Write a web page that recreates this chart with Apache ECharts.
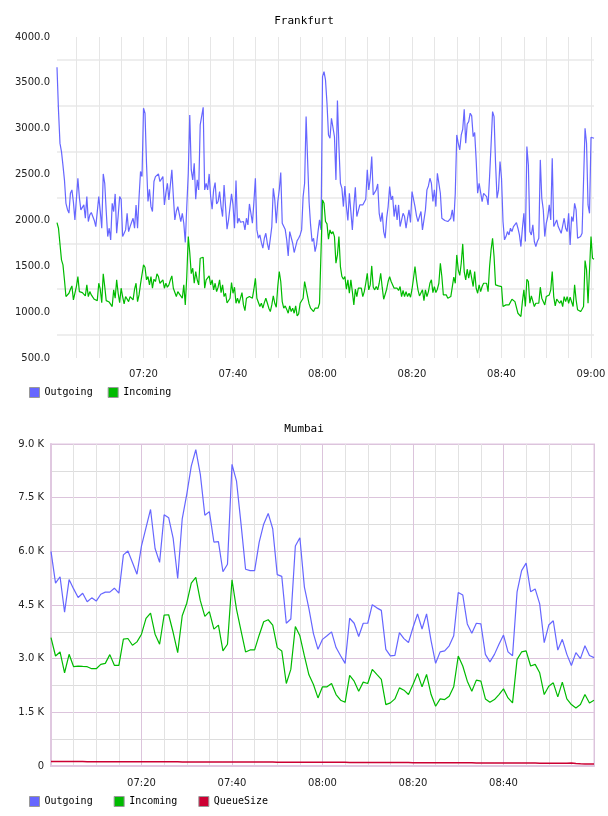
<!DOCTYPE html>
<html>
<head>
<meta charset="utf-8">
<title>Frankfurt / Mumbai</title>
<script src="https://cdn.jsdelivr.net/npm/echarts@6/dist/echarts.min.js"></script>
<style>
  html, body { margin: 0; padding: 0; background: #fff; }
  #main { width: 608px; height: 816px; }
</style>
</head>
<body>
<div id="main"></div>
<script>
// Frankfurt: one sample every 20 s from 07:00:40
const frankfurtStart = '07:00:40'
const frankfurtStep = 20

const frankfurtOutgoing = [
  3670, 3200, 2840, 2750, 2600, 2440, 2187, 2120, 2080, 2296, 2333, 2200, 2006, 1988, 2460, 2250, 2115, 2097, 2169, 2024,
  2260, 1988, 2060, 2086, 2078, 2000, 1933, 1951, 2260, 2100, 1915, 2507, 2405, 2100, 1824, 1915, 1788, 2187, 2097, 2289,
  1860, 2050, 2260, 2231, 1824, 1860, 1897, 2078, 1878, 1933, 1980, 2024, 1915, 2169, 1915, 2250, 2533, 2478, 3223, 3169,
  2624, 2206, 2340, 2150, 2097, 2424, 2478, 2490, 2507, 2424, 2405, 2478, 2169, 2300, 2405, 2224, 2206, 2551, 2260, 2006,
  2100, 2151, 2169, 1988, 2078, 1969, 1759, 2150, 2514, 3150, 2551, 2442, 2624, 2231, 2442, 2333, 3041, 3030, 3234, 2333,
  2405, 2333, 2507, 2260, 2122, 2333, 2413, 2180, 2206, 2315, 2151, 2042, 2387, 2150, 1904, 2006, 2024, 2289, 2169, 1915,
  2435, 1969, 2024, 1980, 1969, 1988, 1897, 2024, 1951, 2180, 2078, 1969, 2200, 2460, 1897, 1806, 1842, 1760, 1697, 1806,
  1860, 1751, 1679, 1800, 1933, 2351, 2224, 1969, 2200, 2333, 2522, 1969, 1988, 1900, 1788, 1613, 1878, 1878, 1751, 1650,
  1715, 1780, 1806, 1842, 1897, 2260, 2405, 3132, 2660, 2200, 1951, 1770, 1806, 1660, 1733, 1878, 2006, 1897, 3568, 3623,
  3532, 3278, 2932, 2896, 3114, 3132, 2914, 2442, 3307, 2805, 2405, 2350, 2151, 2376, 2151, 2000, 2296, 2315, 1897, 2158,
  2362, 2042, 2060, 2169, 2150, 2169, 2187, 2231, 2551, 2333, 2460, 2696, 2278, 2260, 2333, 2398, 2078, 1988, 2086, 1878,
  1806, 2024, 2151, 2369, 2224, 2267, 2042, 2169, 2006, 2169, 1933, 1915, 2078, 2042, 1915, 2024, 2115, 1977, 2315, 2333,
  2151, 2050, 1988, 2006, 2097, 1897, 1878, 2115, 2333, 2376, 2460, 2405, 2206, 2333, 2151, 2514, 2405, 2296, 2024, 2006,
  1999, 1988, 1988, 1990, 2024, 2115, 1988, 2296, 2932, 2841, 2769, 2932, 2994, 3212, 2841, 3052, 3078, 3169, 3140, 2914,
  2958, 2660, 2296, 2405, 2387, 2206, 2296, 2296, 2260, 2169, 2478, 2823, 3187, 3132, 2624, 2242, 2333, 2642, 2460, 1988,
  1788, 1824, 1878, 1842, 1915, 1878, 1933, 1915, 1977, 1915, 1842, 1715, 1915, 2078, 1770, 2805, 2605, 1878, 1842, 1951,
  1770, 1715, 1770, 1806, 2660, 2242, 2115, 1824, 1969, 2042, 2169, 2006, 2678, 1933, 1969, 2006, 1933, 1951, 1860, 1860,
  2024, 1915, 1878, 2078, 1733, 2042, 1988, 2187, 2115, 1806, 1795, 1824, 1860, 1878, 3005, 2841, 2169, 2078, 2907, 2896,
  2896
]

const frankfurtIncoming = [
  1977, 1915, 1897, 1570, 1515, 1350, 1170, 1152, 1206, 1250, 1286, 1134, 1126, 1279, 1388, 1224, 1220, 1213, 1224, 1177,
  1297, 1170, 1224, 1188, 1163, 1140, 1126, 1126, 1315, 1250, 1104, 1417, 1279, 1126, 1130, 1110, 1097, 1061, 1243, 1152,
  1352, 1206, 1104, 1261, 1170, 1090, 1170, 1188, 1115, 1170, 1188, 1134, 1250, 1315, 1115, 1188, 1308, 1315, 1515, 1490,
  1352, 1388, 1297, 1388, 1261, 1359, 1334, 1417, 1388, 1315, 1297, 1352, 1261, 1315, 1272, 1297, 1352, 1395, 1261, 1243,
  1170, 1224, 1200, 1188, 1152, 1297, 1079, 1388, 1824, 1650, 1420, 1479, 1315, 1442, 1352, 1297, 1588, 1577, 1599, 1261,
  1352, 1370, 1395, 1297, 1352, 1243, 1315, 1224, 1272, 1352, 1213, 1297, 1170, 1206, 1100, 1079, 1152, 1322, 1206, 1272,
  1097, 1152, 1097, 1152, 1213, 1079, 1017, 1152, 1170, 1170, 1163, 1152, 1250, 1370, 1152, 1134, 1061, 1097, 1043, 1104,
  1152, 1100, 1043, 1006, 1079, 1177, 1097, 1054, 1279, 1442, 1334, 1115, 1043, 1068, 1030, 988, 1068, 1006, 1043, 988,
  1068, 959, 981, 1097, 1090, 1152, 1334, 1315, 1170, 1090, 1043, 1061, 1006, 1043, 1040, 1043, 1097, 1079, 2224, 2187,
  1988, 1962, 1795, 1897, 1853, 1878, 1824, 1533, 1624, 1824, 1497, 1388, 1359, 1388, 1250, 1352, 1206, 1352, 1224, 1079,
  1250, 1170, 1261, 1279, 1261, 1170, 1224, 1315, 1424, 1243, 1297, 1504, 1272, 1243, 1279, 1243, 1315, 1424, 1272, 1141,
  1152, 1250, 1334, 1388, 1334, 1315, 1261, 1250, 1261, 1236, 1279, 1170, 1236, 1170, 1224, 1170, 1206, 1163, 1250, 1370,
  1497, 1352, 1243, 1177, 1163, 1243, 1126, 1243, 1170, 1224, 1315, 1352, 1213, 1279, 1213, 1250, 1315, 1533, 1388, 1188,
  1177, 1188, 1152, 1141, 1170, 1177, 1381, 1315, 1624, 1461, 1400, 1533, 1744, 1442, 1352, 1468, 1370, 1461, 1370, 1279,
  1442, 1261, 1206, 1297, 1224, 1280, 1315, 1297, 1315, 1224, 1497, 1679, 1806, 1606, 1297, 1297, 1286, 1297, 1279, 1061,
  1043, 1079, 1068, 1079, 1100, 1141, 1126, 1115, 1097, 988, 1006, 952, 1115, 1243, 1061, 1359, 1334, 1097, 1177, 1170,
  1061, 1097, 1079, 1097, 1272, 1152, 1170, 1079, 1170, 1188, 1188, 1243, 1442, 1170, 1068, 1141, 1126, 1097, 1126, 1061,
  1170, 1115, 1170, 1097, 1163, 1152, 1061, 1297, 1134, 1025, 1017, 1006, 1032, 1061, 1562, 1461, 1097, 1115, 1824, 1588,
  1577
]

// Mumbai: one sample per minute from 07:00
const mumbaiStart = '07:00:00'
const mumbaiStep = 60

const mumbaiOutgoing = [
  6000, 5110, 5290, 4300, 5210, 4950, 4710, 4830, 4590, 4700, 4610, 4800, 4860, 4860, 4970, 4830, 5900, 6010, 5690, 5360,
  6150, 6660, 7170, 6080, 5690, 7020, 6940, 6360, 5240, 6910, 7590, 8380, 8840, 8150, 7010, 7110, 6260, 6270, 5430, 5640,
  8430, 7960, 6760, 5500, 5460, 5460, 6250, 6760, 7060, 6630, 5350, 5300, 3990, 4110, 6150, 6380, 5000, 4400, 3700, 3260,
  3540, 3640, 3750, 3310, 3080, 2870, 4130, 3990, 3620, 3990, 3990, 4510, 4420, 4350, 3260, 3080, 3090, 3730, 3560, 3450,
  3870, 4250, 3830, 4250, 3500, 2870, 3190, 3220, 3360, 3640, 4850, 4780, 3970, 3710, 3990, 3970, 3120, 2910, 3120, 3400,
  3660, 3190, 3080, 4870, 5460, 5670, 4870, 4950, 4530, 3450, 3940, 4060, 3240, 3540, 3120, 2810, 3170, 3000, 3360, 3090,
  3030
]

const mumbaiIncoming = [
  3591, 3075, 3188, 2606, 3122, 2775, 2794, 2784, 2775, 2719, 2719, 2841, 2869, 3113, 2813, 2813, 3544, 3563, 3375, 3469,
  3684, 4125, 4275, 3684, 3403, 4219, 4228, 3731, 3169, 4200, 4550, 5113, 5271, 4621, 4181, 4313, 3825, 3938, 3216, 3403,
  5206, 4380, 3778, 3188, 3244, 3244, 3656, 4031, 4088, 3938, 3309, 3216, 2306, 2700, 3900, 3638, 3075, 2550, 2278, 1903,
  2213, 2213, 2306, 1997, 1838, 1781, 2531, 2372, 2091, 2344, 2306, 2700, 2559, 2419, 1716, 1763, 1875, 2184, 2119, 1997,
  2278, 2588, 2213, 2559, 1997, 1669, 1875, 1856, 1950, 2213, 3075, 2794, 2372, 2091, 2400, 2372, 1875, 1781, 1856, 1997,
  2156, 1903, 1763, 2981, 3188, 3216, 2794, 2841, 2606, 1997, 2231, 2325, 1931, 2344, 1875, 1716, 1622, 1716, 1997, 1763,
  1838
]

const mumbaiQueue = [
  125, 125, 124, 124, 124, 123, 123, 123, 122, 122, 122, 121, 121, 121, 120, 120, 120, 119, 119, 119,
  118, 118, 118, 117, 117, 117, 116, 116, 116, 115, 115, 115, 114, 114, 114, 113, 113, 113, 112, 112,
  112, 111, 111, 111, 110, 110, 110, 109, 109, 109, 108, 108, 108, 107, 107, 107, 106, 106, 105, 105,
  104, 104, 103, 103, 102, 102, 101, 101, 100, 100, 99, 99, 98, 98, 97, 97, 96, 96, 95, 95,
  94, 94, 93, 93, 92, 92, 91, 91, 90, 90, 89, 89, 88, 88, 87, 87, 86, 86, 85, 85,
  84, 84, 83, 83, 82, 82, 81, 81, 80, 80, 79, 79, 78, 78, 80, 84, 70, 60, 55, 55,
  55
]

const seriesNames = ['Outgoing', 'Incoming', 'QueueSize']
const seriesColors = ['#6666ff', '#00bb00', '#cc0033']

// category labels "HH:MM:SS"
const toSec = (s) => {
  const p = s.split(':').map(Number)
  return p[0] * 3600 + p[1] * 60 + p[2]
}
const pad = (n) => (n < 10 ? '0' : '') + n
const makeTimes = (start, step, count) => {
  const out = []
  let t = toSec(start)
  for (let i = 0; i < count; i++) {
    out.push(pad(Math.floor(t / 3600)) + ':' + pad(Math.floor(t / 60) % 60) + ':' + pad(t % 60))
    t += step
  }
  return out
}
const frankfurtTimes = makeTimes(frankfurtStart, frankfurtStep, frankfurtOutgoing.length)
const mumbaiTimes = makeTimes(mumbaiStart, mumbaiStep, mumbaiOutgoing.length)

// true when the time sits on a whole multiple of `mins` minutes
const onMinute = (v, mins) => {
  const p = v.split(':')
  return p[2] === '00' && Number(p[1]) % mins === 0
}

const monoFont = 'DejaVu Sans Mono'
const labelFont = 'DejaVu Sans'

const chart = echarts.init(document.getElementById('main'))

const option = {
  animation: false,
  backgroundColor: '#fff',
  title: [
    { text: 'Frankfurt', left: 'center', top: 11, textStyle: { fontFamily: monoFont, fontSize: 11, fontWeight: 'normal', color: '#000' } },
    { text: 'Mumbai', left: 'center', top: 419, textStyle: { fontFamily: monoFont, fontSize: 11, fontWeight: 'normal', color: '#000' } }
  ],
  legend: [
    {
      data: ['Outgoing', 'Incoming'],
      left: 24, top: 382,
      icon: 'rect', itemWidth: 10, itemHeight: 10, itemGap: 15,
      itemStyle: { borderColor: '#999', borderWidth: 1 },
      textStyle: { fontFamily: monoFont, fontSize: 10, color: '#000' }
    },
    {
      data: ['Outgoing', 'Incoming', 'QueueSize'],
      left: 24, top: 791,
      icon: 'rect', itemWidth: 10, itemHeight: 10, itemGap: 21,
      itemStyle: { borderColor: '#999', borderWidth: 1 },
      textStyle: { fontFamily: monoFont, fontSize: 10, color: '#000' }
    }
  ],
  grid: [
    { left: 57, right: 14, top: 37, height: 321, outerBoundsMode: 'none', containLabel: false },
    { left: 51, right: 14, top: 444, height: 322, outerBoundsMode: 'none', containLabel: false,
      show: true, borderColor: '#f0e2f0', borderWidth: 2 }
  ],
  xAxis: [
    {
      gridIndex: 0,
      type: 'category',
      boundaryGap: false,
      data: frankfurtTimes,
      axisLine: { show: false },
      axisTick: { show: false },
      axisLabel: {
        interval: (i, v) => i > 0 && onMinute(v, 20),
        formatter: (v) => v.slice(0, 5),
        margin: 11,
        fontFamily: labelFont, fontSize: 10, color: '#222'
      },
      splitLine: {
        show: true,
        interval: (i, v) => onMinute(v, 5),
        lineStyle: { color: '#e6e6e6', width: 1 }
      }
    },
    {
      gridIndex: 1,
      type: 'category',
      boundaryGap: false,
      data: mumbaiTimes,
      axisLine: { show: true, lineStyle: { color: '#e0c8e0', width: 2 } },
      axisTick: { show: false },
      axisLabel: {
        interval: (i, v) => i > 0 && i < mumbaiTimes.length - 1 && onMinute(v, 20),
        formatter: (v) => v.slice(0, 5),
        margin: 12,
        fontFamily: labelFont, fontSize: 10, color: '#222'
      },
      splitLine: {
        show: true,
        interval: (i, v) => onMinute(v, 5),
        lineStyle: { color: ['#dcc4dc', '#e2e2e2', '#e2e2e2', '#e2e2e2'], width: 1 }
      }
    }
  ],
  yAxis: [
    {
      gridIndex: 0,
      type: 'value',
      min: 500, max: 4000, interval: 250,
      axisLine: { show: false },
      axisTick: { show: false },
      axisLabel: {
        formatter: (v) => (v % 500 === 0 ? v.toFixed(1) : ''),
        margin: 7,
        fontFamily: labelFont, fontSize: 10, color: '#222'
      },
      splitLine: { show: true, lineStyle: { color: ['rgba(0,0,0,0)', '#eeeeee'], width: 2 } }
    },
    {
      gridIndex: 1,
      type: 'value',
      min: 0, max: 9000, interval: 750,
      axisLine: { show: true, lineStyle: { color: '#e0c8e0', width: 2 } },
      axisTick: { show: false },
      axisLabel: {
        formatter: (v) => (v === 0 ? '0' : v % 1500 === 0 ? (v / 1000).toFixed(1) + ' K' : ''),
        margin: 7,
        fontFamily: labelFont, fontSize: 10, color: '#222'
      },
      splitLine: { show: true, lineStyle: { color: ['#dcc4dc', '#dddddd'], width: 1 } }
    }
  ],
  series: [
    { name: seriesNames[0], type: 'line', xAxisIndex: 0, yAxisIndex: 0, data: frankfurtOutgoing,
      symbol: 'none', color: seriesColors[0], lineStyle: { width: 1.2 } },
    { name: seriesNames[1], type: 'line', xAxisIndex: 0, yAxisIndex: 0, data: frankfurtIncoming,
      symbol: 'none', color: seriesColors[1], lineStyle: { width: 1.2 } },
    { name: seriesNames[0], type: 'line', xAxisIndex: 1, yAxisIndex: 1, data: mumbaiOutgoing,
      symbol: 'none', color: seriesColors[0], lineStyle: { width: 1.2 } },
    { name: seriesNames[1], type: 'line', xAxisIndex: 1, yAxisIndex: 1, data: mumbaiIncoming,
      symbol: 'none', color: seriesColors[1], lineStyle: { width: 1.2 } },
    { name: seriesNames[2], type: 'line', xAxisIndex: 1, yAxisIndex: 1, data: mumbaiQueue,
      symbol: 'none', color: seriesColors[2], lineStyle: { width: 1.5 } }
  ]
}

chart.setOption(option)
</script>
</body>
</html>
